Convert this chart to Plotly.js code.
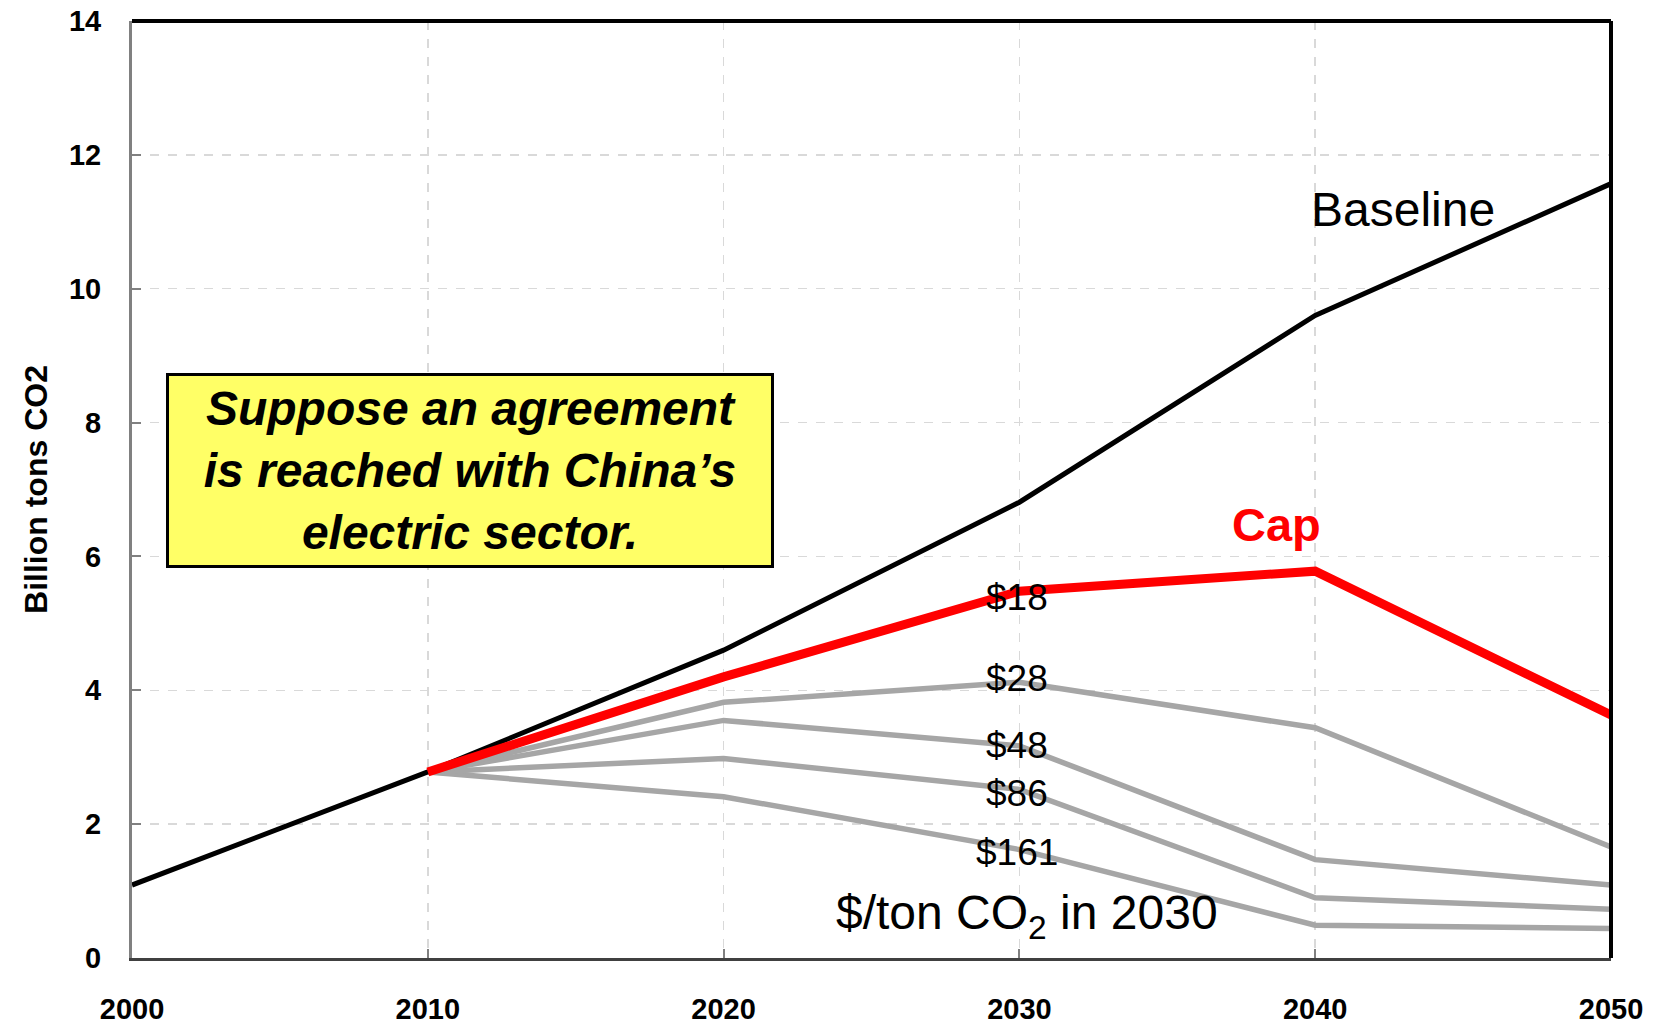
<!DOCTYPE html>
<html>
<head>
<meta charset="utf-8">
<script src="https://cdn.plot.ly/plotly-3.0.1.min.js"></script>
<style>html,body{margin:0;padding:0;background:#fff;}#chart{width:1656px;height:1024px;}</style>
</head>
<body>
<div id="chart"></div>
<script>
var years = [2000, 2010, 2020, 2030, 2040, 2050];
var baseline = [1.09, 2.78, 4.60, 6.81, 9.60, 11.57];
var policyYears = [2010, 2020, 2030, 2040, 2050];
var cap = [2.78, 4.20, 5.48, 5.78, 3.63];
var price28 = [2.78, 3.82, 4.12, 3.44, 1.66];
var price48 = [2.78, 3.55, 3.17, 1.47, 1.09];
var price86 = [2.78, 2.98, 2.52, 0.90, 0.73];
var price161 = [2.78, 2.41, 1.62, 0.49, 0.44];
var priceLabels = ['$18', '$28', '$48', '$86', '$161'];
var priceLabelY = [5.38, 4.18, 3.17, 2.46, 1.58];
var yTicks = [0, 2, 4, 6, 8, 10, 12, 14];
var xTicks = [2000, 2010, 2020, 2030, 2040, 2050];

var FONT = 'Liberation Sans, Arial, sans-serif';
var gray = '#a6a6a6';
var traces = [];
[price161, price86, price48, price28].forEach(function (s) {
  traces.push({x: policyYears, y: s, mode: 'lines', line: {color: gray, width: 5.5}, hoverinfo: 'skip'});
});
traces.push({x: years, y: baseline, mode: 'lines', line: {color: '#000', width: 5}, cliponaxis: false});
traces.push({x: policyYears, y: cap, mode: 'lines', line: {color: '#ff0000', width: 9}, cliponaxis: false});

var annotations = [
  {x: 2042.97, y: 11.19, text: 'Baseline', showarrow: false, font: {family: FONT, size: 48, color: '#000'}},
  {x: 2038.69, y: 6.48, text: '<b>Cap</b>', showarrow: false, font: {family: FONT, size: 47, color: '#ff0000'}},
  {x: 2030.26, y: 0.63, text: '$/ton CO<sub>2</sub> in 2030', showarrow: false, font: {family: FONT, size: 48, color: '#000'}},
  {x: 2011.42, y: 7.29, text: '<b><i>Suppose an agreement<br>is reached with China\u2019s<br>electric sector.</i></b>', showarrow: false,
   font: {family: FONT, size: 48, color: '#000'}, bgcolor: '#ffff66', bordercolor: '#000', borderwidth: 3, borderpad: 0, width: 602, height: 189, align: 'center'}
];
priceLabels.forEach(function (t, i) {
  annotations.push({x: 2029.92, y: priceLabelY[i], text: t, showarrow: false, font: {family: FONT, size: 37, color: '#000'}});
});

var layout = {
  width: 1656, height: 1024,
  margin: {l: 132, r: 45, t: 21, b: 66},
  paper_bgcolor: '#fff', plot_bgcolor: '#fff',
  showlegend: false,
  font: {family: FONT, color: '#000'},
  xaxis: {
    range: [2000, 2050], tickvals: xTicks, ticktext: xTicks.map(String),
    showgrid: true, gridcolor: '#d9d9d9', griddash: 'dash', gridwidth: 1.5,
    zeroline: false, showline: true, linecolor: '#404040', linewidth: 3,
    ticks: 'inside', ticklen: 9, tickcolor: '#808080', tickwidth: 2,
    ticklabelstandoff: 23,
    tickfont: {family: FONT, size: 29, color: '#000', weight: 'bold'}
  },
  yaxis: {
    range: [0, 14], tickvals: yTicks, ticktext: yTicks.map(String),
    showgrid: true, gridcolor: '#d9d9d9', griddash: 'dash', gridwidth: 1.5,
    zeroline: false, showline: true, linecolor: '#808080', linewidth: 3,
    ticks: 'inside', ticklen: 9, tickcolor: '#808080', tickwidth: 2,
    ticklabelstandoff: 22,
    tickfont: {family: FONT, size: 29, color: '#000', weight: 'bold'},
    title: {text: '<b>Billion tons CO2</b>', font: {family: FONT, size: 32, color: '#000'}, standoff: 12}
  },
  shapes: [
    {type: 'line', xref: 'paper', yref: 'paper', x0: 0, x1: 1, y0: 1, y1: 1, line: {color: '#000', width: 4}},
    {type: 'line', xref: 'paper', yref: 'paper', x0: 1, x1: 1, y0: 0, y1: 1, line: {color: '#000', width: 4}}
  ],
  annotations: annotations
};

Plotly.newPlot('chart', traces, layout, {displayModeBar: false, staticPlot: true});
</script>
</body>
</html>
